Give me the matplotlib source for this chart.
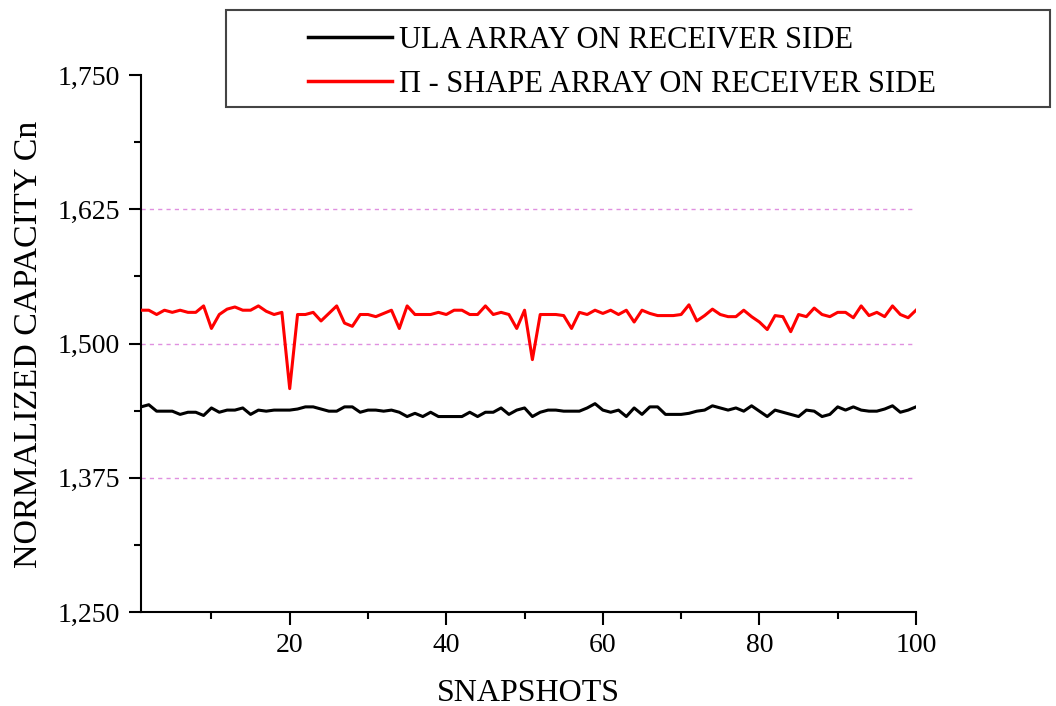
import matplotlib
matplotlib.use("Agg")
from matplotlib import pyplot as plt
from matplotlib.lines import Line2D
from matplotlib.patches import Rectangle
from matplotlib.ticker import MultipleLocator, FuncFormatter

plt.rcParams["font.family"] = ["Liberation Serif", "DejaVu Serif"]

snapshots = list(range(1, 101))

ula = [
    1.441, 1.443, 1.437, 1.437, 1.437, 1.434, 1.436, 1.436, 1.433, 1.440,
    1.436, 1.438, 1.438, 1.440, 1.434, 1.438, 1.437, 1.438, 1.438, 1.438,
    1.439, 1.441, 1.441, 1.439, 1.437, 1.437, 1.441, 1.441, 1.436, 1.438,
    1.438, 1.437, 1.438, 1.436, 1.432, 1.435, 1.432, 1.436, 1.432, 1.432,
    1.432, 1.432, 1.436, 1.432, 1.436, 1.436, 1.440, 1.434, 1.438, 1.440,
    1.432, 1.436, 1.438, 1.438, 1.437, 1.437, 1.437, 1.440, 1.444, 1.438,
    1.436, 1.438, 1.432, 1.440, 1.434, 1.441, 1.441, 1.434, 1.434, 1.434,
    1.435, 1.437, 1.438, 1.442, 1.440, 1.438, 1.440, 1.437, 1.442, 1.437,
    1.432, 1.438, 1.436, 1.434, 1.432, 1.438, 1.437, 1.432, 1.434, 1.441,
    1.438, 1.441, 1.438, 1.437, 1.437, 1.439, 1.442, 1.436, 1.438, 1.441,
]

pi_shape = [
    1.531, 1.531, 1.527, 1.531, 1.529, 1.531, 1.529, 1.529, 1.535, 1.514,
    1.527, 1.532, 1.534, 1.531, 1.531, 1.535, 1.530, 1.527, 1.529, 1.458,
    1.527, 1.527, 1.529, 1.521, 1.528, 1.535, 1.519, 1.516, 1.527, 1.527,
    1.525, 1.528, 1.531, 1.514, 1.535, 1.527, 1.527, 1.527, 1.529, 1.527,
    1.531, 1.531, 1.527, 1.527, 1.535, 1.527, 1.529, 1.527, 1.514, 1.531,
    1.485, 1.527, 1.527, 1.527, 1.526, 1.514, 1.529, 1.527, 1.531, 1.528,
    1.531, 1.527, 1.531, 1.520, 1.531, 1.528, 1.526, 1.526, 1.526, 1.527,
    1.536, 1.521, 1.526, 1.532, 1.527, 1.525, 1.525, 1.531, 1.525, 1.520,
    1.513, 1.526, 1.525, 1.511, 1.527, 1.525, 1.533, 1.527, 1.525, 1.529,
    1.529, 1.524, 1.535, 1.526, 1.529, 1.525, 1.535, 1.527, 1.524, 1.531,
]

labels = ["ULA ARRAY ON RECEIVER SIDE", "\u03a0 - SHAPE ARRAY ON RECEIVER SIDE"]
grid_levels = [1.375, 1.5, 1.625]

fig = plt.figure(figsize=(10.56, 7.06), dpi=100)
ax = fig.add_axes([0.1335, 0.1331, 0.7339, 0.7607])

for g in grid_levels:
    ax.axhline(g, color="#e090e0", lw=1.0, ls=(0, (3, 3)), zorder=1)

ax.plot(snapshots, ula, color="black", lw=2.2, zorder=3)
ax.plot(snapshots, pi_shape, color="#ff0000", lw=2.2, zorder=3)

ax.set_xlim(1, 100)
ax.set_ylim(1.25, 1.75)
ax.xaxis.set_major_locator(MultipleLocator(20))
ax.xaxis.set_minor_locator(MultipleLocator(10))
ax.yaxis.set_major_locator(MultipleLocator(0.125))
ax.yaxis.set_minor_locator(MultipleLocator(0.0625))
ax.yaxis.set_major_formatter(FuncFormatter(lambda v, p: f"{v:.3f}".replace(".", ",")))

for side in ["top", "right"]:
    ax.spines[side].set_visible(False)
for side in ["left", "bottom"]:
    ax.spines[side].set_linewidth(1.5)
ax.tick_params(which="major", length=9, width=1.5, labelsize=20, direction="out")
ax.tick_params(which="minor", length=5, width=1.5, direction="out")
ax.tick_params(axis="x", pad=6)
ax.tick_params(axis="y", pad=6)

ax.set_xlabel("SNAPSHOTS", fontsize=23)
ax.set_ylabel("NORMALIZED CAPACITY Cn", fontsize=24.5)
ax.xaxis.set_label_coords(0.5, -0.124)
ax.yaxis.set_label_coords(-0.125, 0.498)

# legend box at top of figure
fig.add_artist(Rectangle((226 / 1056, 1 - 107 / 706), 824 / 1056, 97 / 706,
                         transform=fig.transFigure, fill=False,
                         edgecolor="#444444", lw=1.5))
for i, (lab, col) in enumerate(zip(labels, ["black", "#ff0000"])):
    yy = 1 - (37 + 44 * i) / 706
    fig.add_artist(Line2D([308 / 1056, 392 / 1056], [yy, yy],
                          transform=fig.transFigure, color=col, lw=2.5))
    fig.text(399 / 1056, 1 - (48 + 44 * i) / 706, lab, fontsize=22,
             va="baseline", ha="left")

fig.savefig("out.png", dpi=100)
